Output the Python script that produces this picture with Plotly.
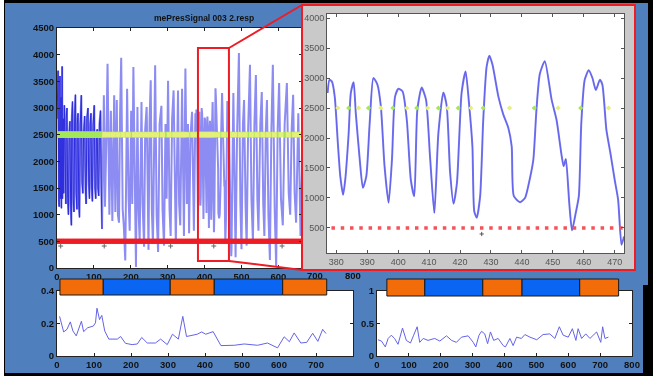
import plotly.graph_objects as go

W, H = 657, 380

# ---------- data ----------
title_text = "mePresSignal 003 2.resp"

dense_x = [0,2,3,5,6,8,9,11,12,14,15,17,18,20,22,24,25,27,29,31,33,35,37,39,40,42,44,46,48,50,52,54,55,57,59,61,63,66,68,70,72,75,77,79,81,84,86,88,90,92,94,96,98,101,103,105,107,109,111,113,115,118,120,122]
dense_y = [2800,3500,3700,1250,1150,3600,1300,3200,1120,3780,1300,2800,1400,3050,1500,1200,2800,3000,1300,1000,2500,2750,1200,800,2800,3120,1300,1050,2900,3250,1400,1100,2700,2900,1200,950,2700,3240,1600,1400,2500,2850,1500,1200,2800,3000,1600,1300,2700,2900,1500,1250,2700,3050,1500,1300,2500,2600,1500,1350,2700,2950,1500,730]

mid_x = [127,130,134,137,142,146,150,155,158,162,165,168,171,174,178,181,185,190,194,197,201,204,207,211,214,218,221,224,229,232,236,239,243,248,251,254,257,260,263,266,270,274,278,283,286,290,294,297,301,305,308,312,316,319,322,328,331,334,339,344,348,352,355,358,362,366,371,375]
mid_y = [3240,1150,2500,3830,1000,2950,880,3240,1050,3150,1000,850,2900,3940,1100,800,140,3360,1300,700,2950,1200,3770,900,20,3020,1100,500,3110,1200,400,2600,3020,340,2800,3520,1100,450,2900,3800,1000,300,2700,3040,1100,420,2700,1300,3510,1100,600,2800,3330,1200,450,3330,1200,800,3360,600,3740,1200,2700,650,2500,2930,700,2900]

zoom_x = [377.2,377.8,378.6,379.5,380.5,381.3,382.2,382.9,384,384.7,385.6,386.3,387.5,388.6,389.7,390.8,392,393.3,394.4,395.6,396.9,398,399,400.1,401.4,402.8,404.1,405.2,406.2,407.6,409,410.3,411.7,413,414.6,415.7,416.8,417.9,419,420.5,421.8,422.9,424,424.6,425.4,426.5,427.5,428.6,429.5,430.5,432.4,434,435.6,436.7,437.4,439.4,441,442.6,443.7,444.7,445.8,447.4,449.6,451.2,452.8,453.5,454.2,455.3,456.2,457.4,458.4,459.2,460.3,461.6,462.8,463.9,465.2,466,467.3,468.6,470,471.1,472.2,473]
zoom_y = [2750,2970,2940,2690,1920,1360,1055,1305,2080,2750,2930,2420,1690,1170,1360,2250,3000,2890,2530,1530,920,1640,2690,2820,2780,2300,1300,1030,2470,2840,2640,1690,750,2080,2760,2530,1420,905,1250,2750,3110,2580,1860,780,670,1030,2300,3190,3370,3220,2690,2390,2170,1860,1030,930,1000,1330,1640,2470,3070,3280,2640,2300,1720,1530,1650,920,460,750,1030,2250,2970,3130,3000,2800,2970,2890,2140,1750,1300,970,220,360]

tail_x = [478,484,488,493,497,500,504,507,511,514,518,523,527,531,535,539,543,546,551,555,559,562,566,569,573,577,581,585,590,594,598,602,607,612,617,623,628,632,636,640,644,648,654,660,668]
tail_y = [3280,200,2500,4030,1200,350,2700,3150,1200,420,2600,3810,1300,500,2700,3620,1300,700,2700,3300,1200,600,2600,3150,1000,150,2600,3810,1100,30,2600,3470,1300,800,2700,3470,1400,1000,2600,3250,1400,850,2900,600,3000]

green_main_x = [1,4,7,10,13,16,19,23,26,29,33,37,41,44,48,52,56,59,64,68,73,77,82,86,90,94,99,103,107,111,116,120,125,134,148,160,171,188,204,217,227,241,252,264,281,299,314,326,337,346,364,373,384,390,398,406,413,419,427,444,459,476,490,505,521,537,553,567,583,600,621,638,652]
yellow_main_x = [129,139,152,165,179,193,210,221,232,245,257,270,286,304,319,331,341,352,368,380,387,394,403,410,416,424,436,452,468,481,497,510,527,542,558,573,589,607,627,644,657]
threshold_high = 2500

red_main_x = [0,6,12,18,24,30,36,42,48,54,60,66,72,78,84,90,96,102,108,114,120,126,132,138,144,150,156,162,168,174,180,186,192,198,204,210,216,222,228,234,240,246,252,258,264,270,276,282,288,294,300,306,312,318,324,330,336,342,348,354,360,366,372,378,384,390,396,402,408,414,420,426,432,438,444,450,456,462,468,474,480,486,492,498,504,510,516,522,528,534,540,546,552,558,564,570,576,582,588,594,600,606,612,618,624,630,636,642,648,654,660]
threshold_low = 500

plus_main_x = [10,128,308,425,610]
plus_main_y = [412,412,412,412,412]

green_zoom_x = [384,390.4,398.3,406,413,419.4,427.5,444,459]
yellow_zoom_x = [380.5,387.2,394.4,402.8,409.5,416,423.5,436,451.7,468]
red_zoom_x = [379,382,385,388,391,394,397,400,403,406,409,412,415,418,421,424,427,430,433,436,439,442,445,448,451,454,457,460,463,466,469,472]
plus_zoom_x = [427]
plus_zoom_y = [400]

left_x = [7,12,18,27,36,43,52,66,72,83,98,104,108,115,121,129,140,163,172,185,203,217,229,244,266,280,298,312,328,340,350,379,391,402,422,443,479,506,542,569,596,614,628,641,659,675,691,705,718,727]
left_y = [.244,.194,.148,.164,.21,.154,.124,.214,.15,.174,.184,.204,.294,.224,.25,.154,.104,.104,.12,.078,.07,.074,.114,.08,.08,.104,.07,.134,.104,.244,.12,.134,.148,.134,.15,.064,.066,.074,.066,.08,.05,.118,.088,.142,.08,.084,.14,.09,.164,.138]

right_x = [3,14,26,35,45,55,66,80,92,105,115,126,134,145,160,181,197,218,234,249,265,286,302,310,320,328,338,347,356,366,380,396,403,417,427,438,453,464,480,501,521,542,558,572,584,600,613,624,631,642,655,668,689,702,708,715,726]
right_y = [.25,.23,.14,.27,.32,.27,.18,.43,.24,.20,.32,.45,.21,.27,.24,.27,.23,.31,.24,.21,.29,.31,.21,.14,.32,.38,.34,.19,.37,.24,.27,.16,.14,.27,.16,.29,.27,.33,.29,.25,.33,.34,.27,.45,.32,.29,.42,.24,.42,.27,.34,.27,.37,.21,.45,.27,.29]

phase_edges_left = [8,125,306,425,610,729]
phase_edges_right = [31,150,332,455,636,758]
phase_colors = ["#F26C0A","#0A66F2","#F26C0A","#0A66F2","#F26C0A"]

main_ticks = [0,100,200,300,400,500,600]
main_yticks = [0,500,1000,1500,2000,2500,3000,3500,4000,4500]
zoom_xticks = [380,390,400,410,420,430,440,450,460,470]
zoom_yticks = [500,1000,1500,2000,2500,3000,3500,4000]
small_xticks = [0,100,200,300,400,500,600,700,800]

# ---------- styling ----------
FONT = "Liberation Sans"
BLUE_BG = "#4F80BD"
RED = "#EE1C25"
LIGHT = "rgb(140,140,242)"
DARK = "rgb(45,45,222)"
GREEN = "#A4E85A"
YELLOW = "#E4F07A"

def dx(a, b): return [a / W, b / W]
def dy(a, b): return [1 - b / H, 1 - a / H]
def px(v): return v / W
def py(v): return 1 - v / H

signal_x = dense_x + mid_x + zoom_x + tail_x
signal_y = dense_y + mid_y + zoom_y + tail_y

fig = go.Figure()

# main
fig.add_trace(go.Scatter(x=signal_x, y=signal_y, mode="lines", line=dict(color=LIGHT, width=2), xaxis="x", yaxis="y"))
fig.add_trace(go.Scatter(x=dense_x, y=dense_y, mode="lines", line=dict(color=DARK, width=1.0), xaxis="x", yaxis="y"))
fig.add_trace(go.Scatter(x=green_main_x, y=[threshold_high]*len(green_main_x), mode="markers", marker=dict(color=GREEN, size=6, symbol="square"), xaxis="x", yaxis="y"))
fig.add_trace(go.Scatter(x=yellow_main_x, y=[threshold_high]*len(yellow_main_x), mode="markers", marker=dict(color=YELLOW, size=5, symbol="square"), xaxis="x", yaxis="y"))
fig.add_trace(go.Scatter(x=red_main_x, y=[threshold_low]*len(red_main_x), mode="markers", marker=dict(color=RED, size=5.5, symbol="circle"), xaxis="x", yaxis="y"))
fig.add_trace(go.Scatter(x=plus_main_x, y=plus_main_y, mode="markers", marker=dict(symbol="cross-thin", size=3.5, line=dict(color="#666", width=1)), xaxis="x", yaxis="y"))

# zoomed inset
fig.add_trace(go.Scatter(x=zoom_x, y=zoom_y, mode="lines", line=dict(color="rgb(125,125,240)", width=2, shape="spline", smoothing=0.6), xaxis="x2", yaxis="y2"))
fig.add_trace(go.Scatter(x=zoom_x, y=zoom_y, mode="lines", line=dict(color="rgba(50,50,225,0.5)", width=0.7, shape="spline", smoothing=0.6), xaxis="x2", yaxis="y2"))
fig.add_trace(go.Scatter(x=green_zoom_x, y=[threshold_high]*len(green_zoom_x), mode="markers", marker=dict(color=GREEN, size=4, symbol="diamond"), xaxis="x2", yaxis="y2"))
fig.add_trace(go.Scatter(x=yellow_zoom_x, y=[threshold_high]*len(yellow_zoom_x), mode="markers", marker=dict(color=YELLOW, size=4, symbol="diamond"), xaxis="x2", yaxis="y2"))
fig.add_trace(go.Scatter(x=red_zoom_x, y=[threshold_low]*len(red_zoom_x), mode="markers", marker=dict(color="#F5525A", size=3.5, symbol="square"), xaxis="x2", yaxis="y2"))
fig.add_trace(go.Scatter(x=plus_zoom_x, y=plus_zoom_y, mode="markers", marker=dict(symbol="cross-thin", size=3, line=dict(color="#555", width=1)), xaxis="x2", yaxis="y2"))

# lower panels
fig.add_trace(go.Scatter(x=left_x, y=left_y, mode="lines", line=dict(color="rgb(100,100,232)", width=1), xaxis="x3", yaxis="y3"))
fig.add_trace(go.Scatter(x=right_x, y=right_y, mode="lines", line=dict(color="rgb(100,100,232)", width=1), xaxis="x4", yaxis="y4"))

def axis(domain, rng, ticks, labels=None, anchor=None, font=None, color="#222"):
    return dict(domain=domain, range=rng, tickvals=ticks, ticktext=labels if labels else [str(t) for t in ticks],
                anchor=anchor, ticks="inside", ticklen=3, tickwidth=1, tickcolor=color, showline=True,
                linecolor=color, linewidth=1, mirror="allticks", showgrid=False, zeroline=False, tickangle=0,
                tickfont=font, automargin=False)

bold = dict(family=FONT, size=9.5, color="#111", weight="bold")
thin = dict(family=FONT, size=9, color="#555")

shapes = []
def rect(x0, y0, x1, y1, fill, line=None, lw=0, layer="below"):
    shapes.append(dict(type="rect", xref="paper", yref="paper", x0=px(x0), x1=px(x1), y0=py(y0), y1=py(y1),
                       fillcolor=fill, line=dict(color=line or fill, width=lw), layer=layer))

# page frame
rect(4, 0, 653, 376, "#000000")
rect(5, 3, 648, 285, BLUE_BG)
rect(5, 285, 643, 373, BLUE_BG)
# inset panel
rect(302, 5, 635, 270, "#C9C9C9", RED, 2)
# plot backgrounds
rect(57, 28, 302, 268, "#FFFFFF")
rect(327, 14, 624, 253, "#FFFFFF")
rect(57, 291, 353, 356, "#FFFFFF")
rect(377, 291, 632, 356, "#FFFFFF")

for (a, b, c, d) in [(229, 48, 302, 5), (229, 261, 302, 270), (302, 5, 302, 270)]:
    shapes.append(dict(type="line", xref="paper", yref="paper", x0=px(a), y0=py(b), x1=px(c), y1=py(d),
                       line=dict(color=RED, width=2), layer="above"))

shapes.append(dict(type="rect", xref="x", yref="y", x0=382, x1=466, y0=130, y1=4125,
                   line=dict(color=RED, width=2), fillcolor="rgba(0,0,0,0)", layer="above"))

for edges, xr, top, bot in [(phase_edges_left, "x3", 279, 295), (phase_edges_right, "x4", 279, 296)]:
    for i, c in enumerate(phase_colors):
        shapes.append(dict(type="rect", xref=xr, yref="paper", x0=edges[i], x1=edges[i+1], y0=py(bot), y1=py(top),
                           fillcolor=c, line=dict(color="#1a1a1a", width=1), layer="above"))

annotations = [
    dict(text=title_text, xref="paper", yref="paper", x=px(204), y=py(18), xanchor="center", yanchor="middle", showarrow=False,
         font=dict(family=FONT, size=8.5, color="#111", weight="bold")),
    dict(text="700", xref="paper", yref="paper", x=px(315), y=py(275), xanchor="center", yanchor="middle", showarrow=False, font=bold),
    dict(text="800", xref="paper", yref="paper", x=px(353), y=py(275), xanchor="center", yanchor="middle", showarrow=False, font=bold),
]

fig.update_layout(
    width=W, height=H, margin=dict(l=0, r=0, t=0, b=0, pad=0, autoexpand=False), showlegend=False,
    paper_bgcolor="#FFFFFF", plot_bgcolor="rgba(0,0,0,0)", shapes=shapes, annotations=annotations,
    xaxis=axis(dx(57, 302), [0, 664], main_ticks, anchor="y", font=bold),
    yaxis=axis(dy(28, 268), [0, 4500], main_yticks, anchor="x", font=bold),
    xaxis2=axis(dx(327, 624), [377, 473], zoom_xticks, anchor="y2", font=thin, color="#555"),
    yaxis2=axis(dy(14, 253), [83, 4067], zoom_yticks, anchor="x2", font=thin, color="#555"),
    xaxis3=axis(dx(57, 353), [0, 800], small_xticks[:-1], anchor="y3", font=bold),
    yaxis3=axis(dy(291, 356), [0, 0.4], [0, 0.2, 0.4], ["0", "0.2", "0.4"], anchor="x3", font=bold),
    xaxis4=axis(dx(377, 632), [0, 800], small_xticks, anchor="y4", font=bold),
    yaxis4=axis(dy(291, 356), [0, 1], [0, 0.5, 1], ["0", "0.5", "1"], anchor="x4", font=bold),
)

fig.write_html("out.html", config={"displayModeBar": False},
               post_script="document.body.style.margin='0';document.body.style.overflow='hidden';"
                           "document.querySelector('.svg-container').style.filter='blur(0.5px)';")
